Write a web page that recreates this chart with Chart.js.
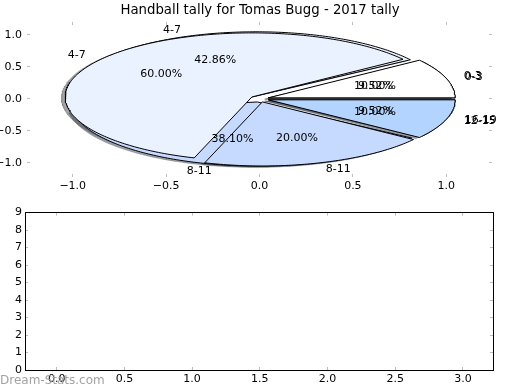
<!DOCTYPE html>
<html>
<head>
<meta charset="utf-8">
<script src="https://cdn.jsdelivr.net/npm/chart.js@4.4.0/dist/chart.umd.min.js"></script>
<style>
  html, body { margin: 0; padding: 0; background: #fff; }
  #wrap { position: relative; width: 520px; height: 390px; overflow: hidden; }
  canvas { position: absolute; left: 0; }
  #pie-canvas { top: 0; }
  #empty-canvas { top: 200px; }
  #watermark { position: absolute; left: 0; top: 373px; font: 12px "DejaVu Sans"; line-height: 14px; color: #a3a3a3; }
</style>
</head>
<body>
<div id="wrap">
  <canvas id="pie-canvas" width="520" height="200"></canvas>
  <canvas id="empty-canvas" width="520" height="190"></canvas>
  <div id="watermark">Dream-Stats.com</div>
</div>
<script>
const TITLE = 'Handball tally for Tomas Bugg - 2017 tally';

// pie drawn underneath
const ageGroupsB = ['0-3', '4-7', '8-11', '16-19'];
const tallyB = [2, 9, 8, 2];
// pie drawn on top
const ageGroupsA = ['0-3', '4-7', '8-11', '12-15'];
const tallyA = [1, 6, 2, 1];

const sliceColors = ['#ffffff', '#eaf1ff', '#c6d9ff', '#b3d4ff'];

const pieTicks = [-1.0, -0.5, 0.0, 0.5, 1.0];
const lowerXTicks = [0.0, 0.5, 1.0, 1.5, 2.0, 2.5, 3.0];
const lowerYTicks = [0, 1, 2, 3, 4, 5, 6, 7, 8, 9];

const EXPLODE = 0.05;
const SHADOW = 0.02;

Chart.defaults.font.family = '"DejaVu Sans", sans-serif';
Chart.defaults.font.size = 11;
Chart.defaults.color = '#000';

function wedges(values) {
  const total = values.reduce((a, b) => a + b, 0);
  let start = 0;
  return values.map(v => {
    const sweep = 360 * v / total;
    const mid = (start + sweep / 2) * Math.PI / 180;
    const w = {
      start: start, end: start + sweep, mid: mid,
      cx: EXPLODE * Math.cos(mid), cy: EXPLODE * Math.sin(mid),
      pct: 100 * v / total
    };
    start += sweep;
    return w;
  });
}

function outline(w, dx, dy) {
  const pts = [{x: w.cx + dx, y: w.cy + dy}];
  const n = Math.max(2, Math.ceil(w.end - w.start));
  for (let i = 0; i <= n; i++) {
    const a = (w.start + (w.end - w.start) * i / n) * Math.PI / 180;
    pts.push({x: w.cx + dx + Math.cos(a), y: w.cy + dy + Math.sin(a)});
  }
  pts.push(pts[0]);
  return pts;
}

function shade(hex) {
  const r = parseInt(hex.slice(1, 3), 16), g = parseInt(hex.slice(3, 5), 16), b = parseInt(hex.slice(5, 7), 16);
  return 'rgba(' + Math.round(r * 0.3) + ',' + Math.round(g * 0.3) + ',' + Math.round(b * 0.3) + ',0.5)';
}

function fmt(v) {
  return (v < 0 ? '\u2212' : '') + Math.abs(v).toFixed(1);
}

// build datasets: shadows first, then pie B, then pie A on top
let pieSets = [];
[tallyB, tallyA].forEach(values => {
  wedges(values).forEach((w, i) => {
    pieSets.push({ data: outline(w, -SHADOW, -SHADOW), backgroundColor: shade(sliceColors[i]), borderColor: shade(sliceColors[i]), borderWidth: 0.5 });
  });
});
[tallyB, tallyA].forEach(values => {
  wedges(values).forEach((w, i) => {
    pieSets.push({ data: outline(w, 0, 0), backgroundColor: sliceColors[i], borderColor: '#000', borderWidth: 1 });
  });
});
pieSets = pieSets.map((d, i) => Object.assign(d, {
  showLine: true, fill: 'shape', pointRadius: 0, tension: 0, order: pieSets.length - i
}));

const pieLabels = {
  id: 'pieLabels',
  afterDatasetsDraw(chart) {
    const ctx = chart.ctx, x = chart.scales.x, y = chart.scales.y;
    ctx.save();
    ctx.font = '11px "DejaVu Sans"';
    ctx.fillStyle = '#000';
    ctx.textBaseline = 'middle';
    [[ageGroupsB, tallyB], [ageGroupsA, tallyA]].forEach(([names, values]) => {
      wedges(values).forEach((w, i) => {
        const c = Math.cos(w.mid), s = Math.sin(w.mid);
        const lx = w.cx + 1.1 * c, ly = w.cy + 1.1 * s;
        ctx.textAlign = lx > 0 ? 'left' : 'right';
        ctx.fillText(names[i], x.getPixelForValue(lx), y.getPixelForValue(ly));
        ctx.textAlign = 'center';
        ctx.fillText(w.pct.toFixed(2) + '%', x.getPixelForValue(w.cx + 0.6 * c), y.getPixelForValue(w.cy + 0.6 * s));
      });
    });
    ctx.restore();
  }
};

function axis(position, min, max, ticks, size, opts) {
  const horizontal = position === 'top' || position === 'bottom';
  return {
    type: 'linear',
    position: position,
    min: min,
    max: max,
    afterBuildTicks: s => { s.ticks = ticks.map(v => ({value: v})); },
    afterFit: s => { if (horizontal) s.height = size; else s.width = size; },
    grid: { display: true, drawOnChartArea: false, drawTicks: true, tickLength: -3, color: '#bdbdbd', lineWidth: 1 },
    border: { display: opts.frame, color: '#000', width: 1 },
    ticks: { display: opts.labels, autoSkip: false, maxRotation: 0, padding: opts.pad || 0, callback: opts.fmt }
  };
}

new Chart(document.getElementById('pie-canvas'), {
  type: 'line',
  data: { datasets: pieSets },
  options: {
    responsive: false,
    animation: false,
    layout: { padding: 0 },
    plugins: {
      legend: { display: false },
      tooltip: { enabled: false },
      title: { display: true, text: TITLE, color: '#000', font: { size: 13.3, weight: 'normal' }, padding: { top: 3, bottom: 3 } }
    },
    scales: {
      x: axis('bottom', -1.245, 1.245, pieTicks, 23, { frame: false, labels: true, pad: 5.5, fmt: fmt }),
      y: axis('left', -1.22, 1.2, pieTicks, 27, { frame: false, labels: true, pad: 8, fmt: fmt }),
      x2: axis('top', -1.245, 1.245, pieTicks, 0, { frame: false, labels: false }),
      y2: axis('right', -1.22, 1.2, pieTicks, 28, { frame: false, labels: false })
    }
  },
  plugins: [pieLabels]
});

new Chart(document.getElementById('empty-canvas'), {
  type: 'line',
  data: { datasets: [] },
  options: {
    responsive: false,
    animation: false,
    layout: { padding: 0 },
    plugins: { legend: { display: false }, tooltip: { enabled: false } },
    scales: {
      x: axis('bottom', -0.234, 3.222, lowerXTicks, 20, { frame: true, labels: true, pad: 5.5, fmt: v => v.toFixed(1) }),
      y: axis('left', 0, 9, lowerYTicks, 25, { frame: true, labels: true, pad: 6, fmt: v => String(v) }),
      x2: axis('top', -0.234, 3.222, lowerXTicks, 10, { frame: true, labels: false }),
      y2: axis('right', 0, 9, lowerYTicks, 27, { frame: true, labels: false })
    }
  }
});
</script>
</body>
</html>
